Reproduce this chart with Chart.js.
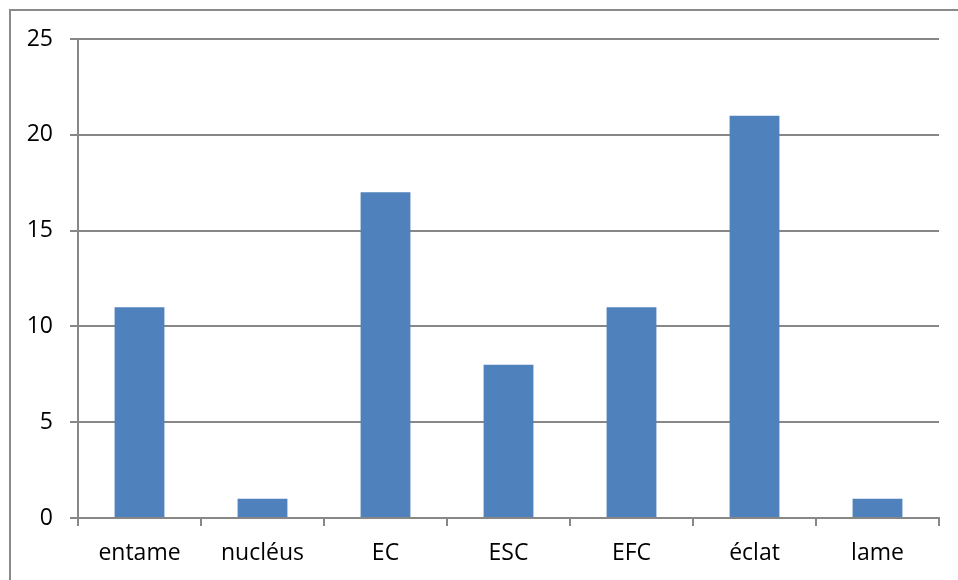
<!DOCTYPE html>
<html>
<head>
<meta charset="utf-8">
<script src="https://cdn.jsdelivr.net/npm/chart.js@4"></script>
<style>
  html, body { margin: 0; padding: 0; background: #fff; overflow: hidden; }
  #frame {
    position: absolute; left: 9px; top: 9px; width: 1000px; height: 600px;
    border-top: 2px solid #8a8a8a; border-left: 2px solid #8a8a8a;
  }
  #wrap { position: absolute; left: 0; top: 0; width: 958px; height: 580px; }
</style>
</head>
<body>
<div id="frame"></div>
<div id="wrap"><canvas id="chart" width="958" height="580"></canvas></div>
<script>
const categories = ["entame", "nucléus", "EC", "ESC", "EFC", "éclat", "lame"];
const counts = [11, 1, 17, 8, 11, 21, 1];
const yTicks = [0, 5, 10, 15, 20, 25];

const gridGrey = "#878787";
const font = { family: "'Open Sans', 'Noto Sans', sans-serif", size: 23 };

new Chart(document.getElementById("chart"), {
    type: "bar",
    data: {
        labels: categories,
        datasets: [{
            data: counts,
            backgroundColor: "#4F81BD",
            borderWidth: 0,
            categoryPercentage: 1,
            barPercentage: 0.405
        }]
    },
    options: {
        responsive: false,
        animation: false,
        devicePixelRatio: 1,
        layout: { padding: { left: 0, top: 39, right: 19, bottom: 0 } },
        plugins: { legend: { display: false }, tooltip: { enabled: false } },
        scales: {
            x: {
                offset: true,
                grid: {
                    offset: true,
                    drawOnChartArea: false,
                    drawTicks: true,
                    tickLength: 8,
                    color: gridGrey,
                    lineWidth: 2
                },
                border: { color: gridGrey, width: 2 },
                ticks: { color: "#000", font: font, padding: 14 },
                afterFit: s => { s.height = 580 - 518; }
            },
            y: {
                min: 0,
                max: 25,
                afterBuildTicks: s => { s.ticks = yTicks.map(v => ({ value: v })); },
                grid: {
                    color: gridGrey,
                    lineWidth: 2,
                    drawTicks: true,
                    tickLength: 8
                },
                border: { color: gridGrey, width: 2 },
                ticks: { color: "#000", font: font, padding: 17 },
                afterFit: s => { s.width = 78; }
            }
        }
    }
});
</script>
</body>
</html>
